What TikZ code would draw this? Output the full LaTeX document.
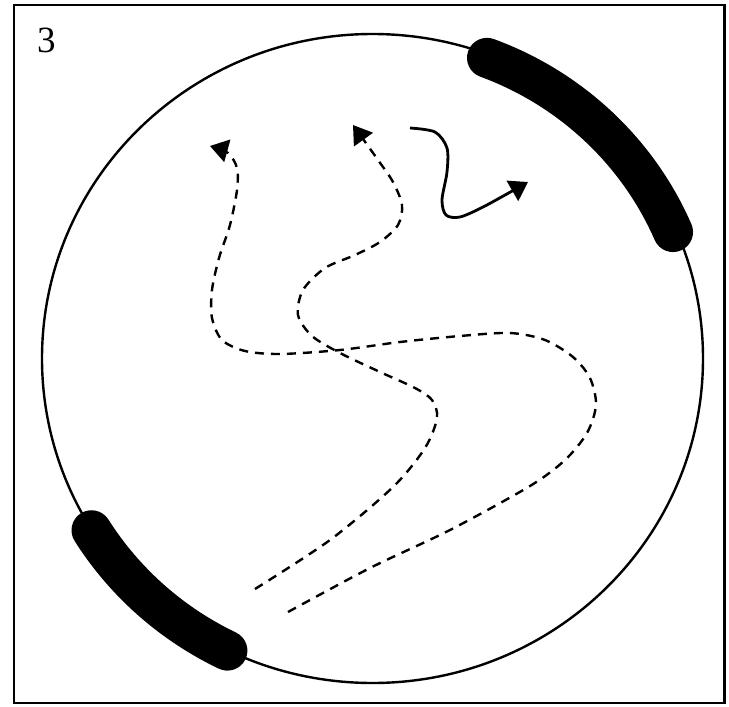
\documentclass[tikz,border=0pt]{standalone}
\usepackage{fontspec}
\setmainfont{Liberation Serif}
\usetikzlibrary{arrows.meta}
\tikzset{
  rim/.style={line width=2.4pt},
  band/.style={line width=40pt,line cap=round},
  walk/.style={line width=2.4pt,dash pattern=on 9pt off 7pt,-{Triangle[length=18pt,width=23pt]}},
  hop/.style={line width=2.8pt,-{Triangle[length=18pt,width=23pt]}}
}
\begin{document}
\begin{tikzpicture}[x=1pt,y=-1pt]
\useasboundingbox (0,0) rectangle (729,707);
\draw[line width=2.8pt] (14,5) rectangle (724.5,703);
\node[font=\fontsize{37}{37}\selectfont,inner sep=0pt] (num) at (46.5,40.5) {3};
\coordinate (O) at (372.5,358.5);
\draw[rim] (O) ellipse [x radius=330.5,y radius=324.5];
% dark bands on the rim
\draw[band] ([shift={(-69.5:327 and 321)}]O) arc[start angle=-69.5,end angle=-23.2,x radius=327,y radius=321];
\draw[band] ([shift={(148.1:331 and 325)}]O) arc[start angle=148.1,end angle=116,x radius=331,y radius=325];
% dashed walks
\draw[walk] plot[smooth] coordinates {(288,612) (370,568) (450,530) (530,486) (565,460) (587,433) (596,405) (590,378) (573,357) (545,340) (510,333) (460,336) (400,342) (340,350) (280,354) (245,351) (222,340) (212,318) (212,290) (219,258) (230,225) (237,190) (237,168) (228,153) (210,146)};
\draw[walk] plot[smooth] coordinates {(255,589) (330,540) (393,487) (425,448) (437,418) (432,400) (415,388) (380,372) (340,353) (312,336) (298,315) (303,290) (325,268) (355,255) (380,242) (398,225) (402,205) (393,182) (378,160) (353,125)};
% solid hop
\draw[hop] plot[smooth] coordinates {(410,128) (435,132) (447,148) (447,172) (442,200) (446,215) (460,217) (485,206) (528,182)};
\end{tikzpicture}
\end{document}
